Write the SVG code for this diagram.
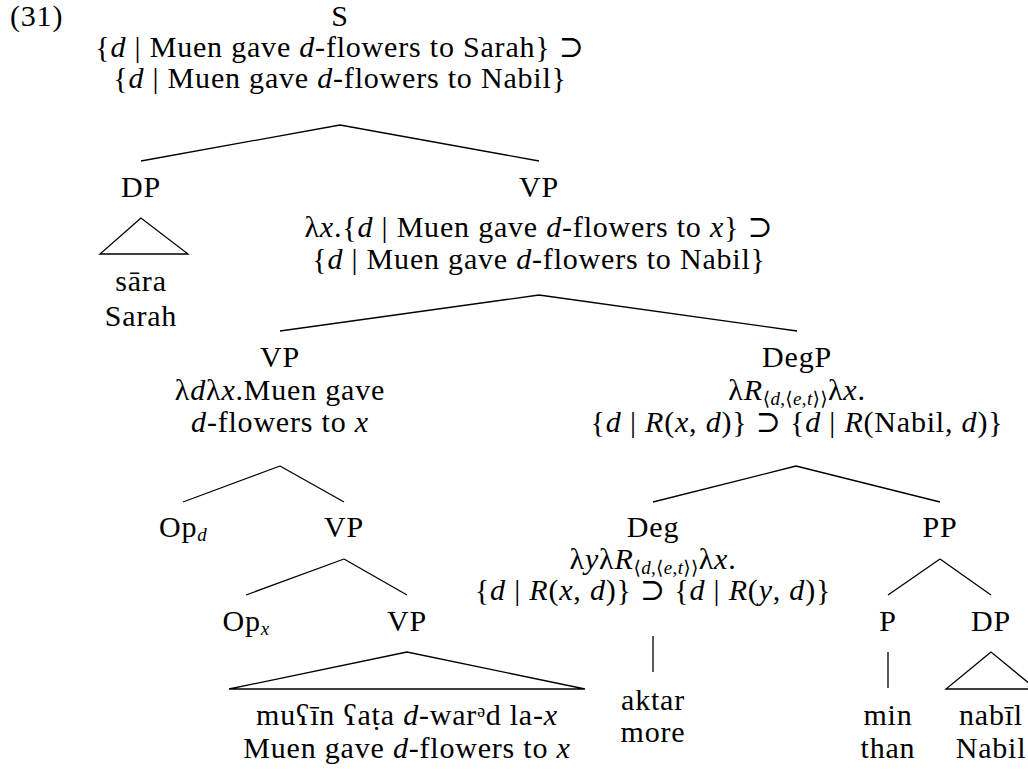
<svg xmlns="http://www.w3.org/2000/svg" width="1028" height="770" viewBox="0 0 1028 770">
<style>
.t{font-family:"Liberation Serif","DejaVu Serif",serif;font-size:30px;fill:#000;text-anchor:middle;letter-spacing:0.8px}
.l{text-anchor:start}
.i{font-style:italic}
.s{font-size:19px;letter-spacing:0.3px}
.e{stroke:#000;stroke-width:1.3;fill:none}
</style>
<rect width="1028" height="770" fill="#fff"/>
<g id="edges" class="e">
<path d="M340,125 L141,161 M340,125 L539,161"/>
<path d="M141,218 L100,254 L188,254 Z"/>
<path d="M539,295 L280,331 M539,295 L797,331"/>
<path d="M280,466 L183,502 M280,466 L344,502"/>
<path d="M344,559 L246,595 M344,559 L407,595"/>
<path d="M407,652 L229,689 L585,689 Z"/>
<path d="M796,466 L653,502 M796,466 L940,502"/>
<path d="M653,636 L653,672"/>
<path d="M940,559 L888,595 M940,559 L991,595"/>
<path d="M888,652 L888,688"/>
<path d="M991,652 L946,689 L1036,689 Z"/>
</g>
<g id="ex"><text class="t l" x="10" y="26">(31)</text></g>
<g id="S">
<text class="t" x="340" y="26">S</text>
<text class="t" x="340" y="57">{<tspan class="i">d</tspan> | Muen gave <tspan class="i">d</tspan>-flowers to Sarah} ⊃</text>
<text class="t" x="340" y="88">{<tspan class="i">d</tspan> | Muen gave <tspan class="i">d</tspan>-flowers to Nabil}</text>
</g>
<g id="DP1">
<text class="t" x="141" y="197">DP</text>
<text class="t" x="141" y="291">sāra</text>
<text class="t" x="141" y="326">Sarah</text>
</g>
<g id="VP1">
<text class="t" x="539" y="197">VP</text>
<text class="t" x="539" y="237">λ<tspan class="i">x</tspan>.{<tspan class="i">d</tspan> | Muen gave <tspan class="i">d</tspan>-flowers to <tspan class="i">x</tspan>} ⊃</text>
<text class="t" x="539" y="269">{<tspan class="i">d</tspan> | Muen gave <tspan class="i">d</tspan>-flowers to Nabil}</text>
</g>
<g id="VP2">
<text class="t" x="280" y="367">VP</text>
<text class="t" x="280" y="400">λ<tspan class="i">d</tspan>λ<tspan class="i">x</tspan>.Muen gave</text>
<text class="t" x="280" y="432"><tspan class="i">d</tspan>-flowers to <tspan class="i">x</tspan></text>
</g>
<g id="DegP">
<text class="t" x="797" y="367">DegP</text>
<text class="t" x="797" y="400">λ<tspan class="i">R</tspan><tspan class="s" dy="5">⟨<tspan class="i">d</tspan>,⟨<tspan class="i">e</tspan>,<tspan class="i">t</tspan>⟩⟩</tspan><tspan dy="-5">λ<tspan class="i">x</tspan>.</tspan></text>
<text class="t" x="797" y="432">{<tspan class="i">d</tspan> | <tspan class="i">R</tspan>(<tspan class="i">x</tspan>, <tspan class="i">d</tspan>)} ⊃ {<tspan class="i">d</tspan> | <tspan class="i">R</tspan>(Nabil, <tspan class="i">d</tspan>)}</text>
</g>
<g id="Opd"><text class="t" x="183" y="537">Op<tspan class="i s" dy="4">d</tspan></text></g>
<g id="VP3"><text class="t" x="344" y="537">VP</text></g>
<g id="Opx"><text class="t" x="246" y="631">Op<tspan class="i s" dy="4">x</tspan></text></g>
<g id="VP4">
<text class="t" x="407" y="631">VP</text>
<text class="t" x="407" y="725">muʕīn ʕaṭa <tspan class="i">d</tspan>-warᵊd la-<tspan class="i">x</tspan></text>
<text class="t" x="407" y="758">Muen gave <tspan class="i">d</tspan>-flowers to <tspan class="i">x</tspan></text>
</g>
<g id="Deg">
<text class="t" x="653" y="537">Deg</text>
<text class="t" x="653" y="569">λ<tspan class="i">y</tspan>λ<tspan class="i">R</tspan><tspan class="s" dy="5">⟨<tspan class="i">d</tspan>,⟨<tspan class="i">e</tspan>,<tspan class="i">t</tspan>⟩⟩</tspan><tspan dy="-5">λ<tspan class="i">x</tspan>.</tspan></text>
<text class="t" x="653" y="600">{<tspan class="i">d</tspan> | <tspan class="i">R</tspan>(<tspan class="i">x</tspan>, <tspan class="i">d</tspan>)} ⊃ {<tspan class="i">d</tspan> | <tspan class="i">R</tspan>(<tspan class="i">y</tspan>, <tspan class="i">d</tspan>)}</text>
<text class="t" x="653" y="710">aktar</text>
<text class="t" x="653" y="742">more</text>
</g>
<g id="PP"><text class="t" x="940" y="537">PP</text></g>
<g id="P">
<text class="t" x="888" y="631">P</text>
<text class="t" x="888" y="725">min</text>
<text class="t" x="888" y="758">than</text>
</g>
<g id="DP2">
<text class="t" x="991" y="631">DP</text>
<text class="t" x="991" y="725">nabīl</text>
<text class="t" x="991" y="758">Nabil</text>
</g>
</svg>
